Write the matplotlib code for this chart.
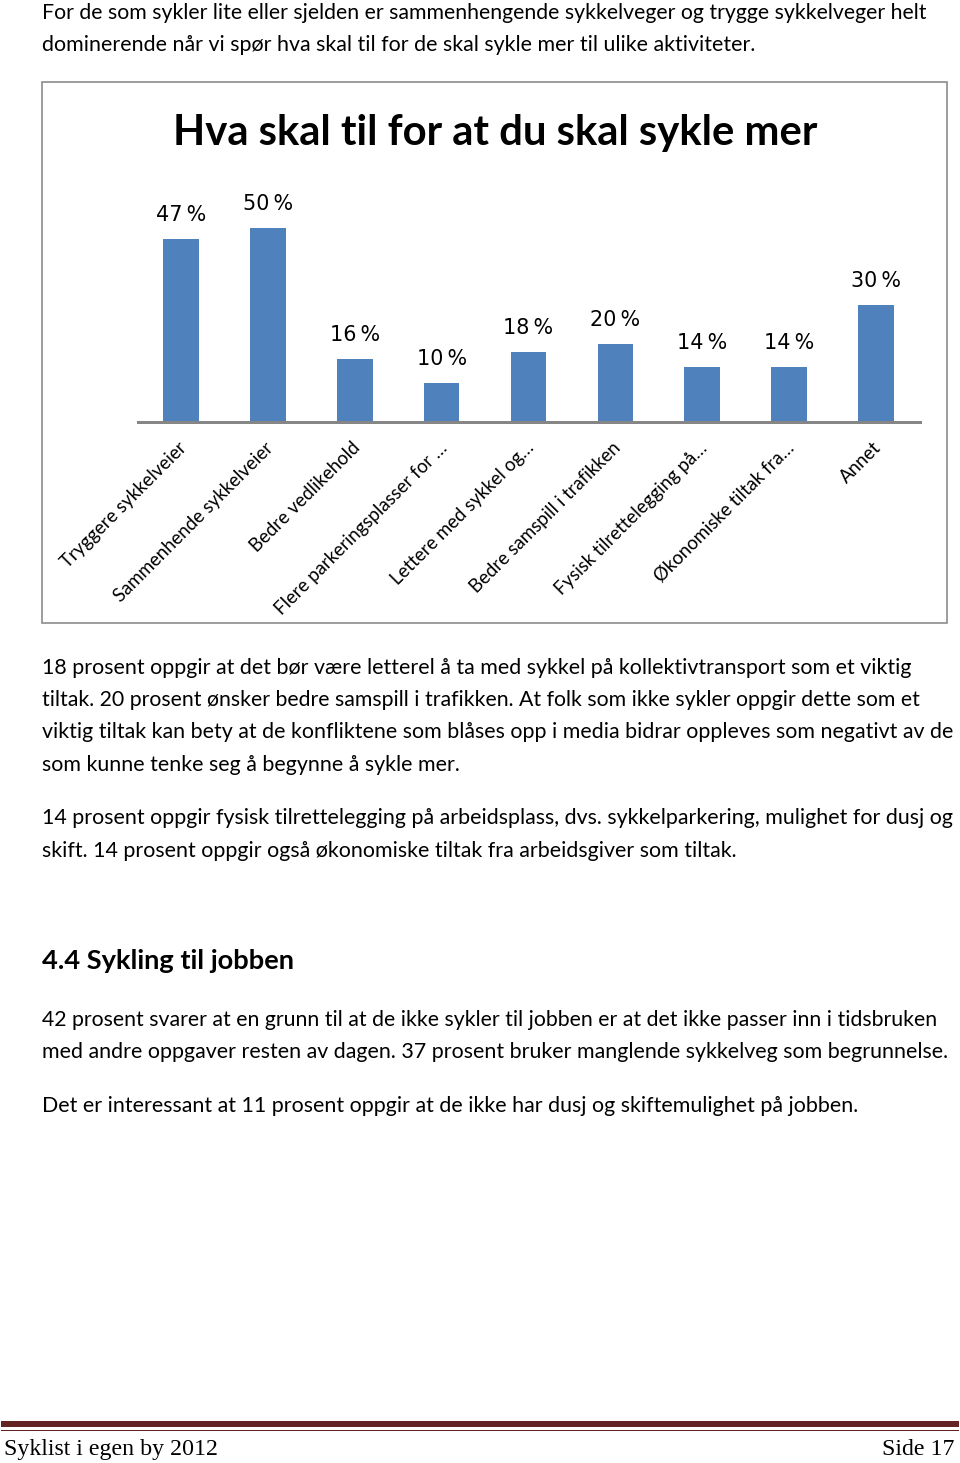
import matplotlib
matplotlib.use("Agg")
import matplotlib.pyplot as plt
from matplotlib.patches import Rectangle
import matplotlib.transforms as mtransforms

# ---------------- data ----------------
title = "Hva skal til for at du skal sykle mer"
categories = ["Tryggere sykkelveier", "Sammenhende sykkelveier", "Bedre vedlikehold",
              "Flere parkeringsplasser for …", "Lettere med sykkel og…",
              "Bedre samspill i trafikken", "Fysisk tilrettelegging på…",
              "Økonomiske tiltak fra…", "Annet"]
values = [47, 50, 16, 10, 18, 20, 14, 14, 30]
value_labels = ["47\u202f%", "50\u202f%", "16\u202f%", "10\u202f%", "18\u202f%",
                "20\u202f%", "14\u202f%", "14\u202f%", "30\u202f%"]

intro_lines = [
    "For de som sykler lite eller sjelden er sammenhengende sykkelveger og trygge sykkelveger helt",
    "dominerende når vi spør hva skal til for de skal sykle mer til ulike aktiviteter.",
]
after_lines = [
    "18 prosent oppgir at det bør være letterel å ta med sykkel på kollektivtransport som et viktig",
    "tiltak. 20 prosent ønsker bedre samspill i trafikken. At folk som ikke sykler oppgir dette som et",
    "viktig tiltak kan bety at de konfliktene som blåses opp i media bidrar oppleves som negativt av de",
    "som kunne tenke seg å begynne å sykle mer.",
    "14 prosent oppgir fysisk tilrettelegging på arbeidsplass, dvs. sykkelparkering, mulighet for dusj og",
    "skift. 14 prosent oppgir også økonomiske tiltak fra arbeidsgiver som tiltak.",
]
heading = "4.4 Sykling til jobben"
section_lines = [
    "42 prosent svarer at en grunn til at de ikke sykler til jobben er at det ikke passer inn i tidsbruken",
    "med andre oppgaver resten av dagen. 37 prosent bruker manglende sykkelveg som begrunnelse.",
    "Det er interessant at 11 prosent oppgir at de ikke har dusj og skiftemulighet på jobben.",
]
footer_left = "Syklist i egen by 2012"
footer_right = "Side 17"

# ---------------- layout (pixels) ----------------
W, H = 960, 1463
intro_layout = [(19, 928), (51, 754)]
after_layout = [(674, 909), (706, 922), (738, 951), (771, 459), (824, 951), (857, 735)]
heading_layout = (969, 295)
section_layout = [(1026, 938), (1058, 949), (1112, 856)]
LEFT = 42

BAR_COLOR = "#4F81BD"
AXIS_COLOR = "#868686"
FOOT_COLOR = "#632423"
BODY_FONT = ["Lato", "DejaVu Sans"]

fig = plt.figure(figsize=(W / 100, H / 100), dpi=100)
renderer = fig.canvas.get_renderer()

ov = fig.add_axes([0, 0, 1, 1], zorder=0)
ov.set_xlim(0, W)
ov.set_ylim(H, 0)
ov.axis("off")


def fit(t, target_w):
    t.set_fontsize(20)
    w = t.get_window_extent(renderer).width
    t.set_fontsize(20 * target_w / w)
    return t


def body_line(s, y, right, weight="normal"):
    t = ov.text(LEFT, y, s, ha="left", va="baseline", family=BODY_FONT,
                weight=weight, color="black")
    fit(t, right - LEFT)
    return t


for s, (y, r) in zip(intro_lines, intro_layout):
    body_line(s, y, r)
for s, (y, r) in zip(after_lines, after_layout):
    body_line(s, y, r)
body_line(heading, heading_layout[0], heading_layout[1], weight="bold")
for s, (y, r) in zip(section_lines, section_layout):
    body_line(s, y, r)

# chart frame
ov.add_patch(Rectangle((42, 82), 905, 541, facecolor="white",
                       edgecolor="#8c8c8c", lw=1.2))

# title
tt = ov.text(495, 145, title, ha="center", va="baseline", family=BODY_FONT,
             weight="bold", color="black")
fit(tt, 646)

# chart axes
ax_left, ax_right = 137.5, 919.5
base_y = 421.5
px_per = 3.88
ymax = 60
ax_h = ymax * px_per
ax = fig.add_axes([ax_left / W, 1 - base_y / H, (ax_right - ax_left) / W, ax_h / H],
                  zorder=2)
ax.patch.set_visible(False)
x = list(range(len(categories)))
ax.bar(x, values, width=0.41, color=BAR_COLOR, zorder=2)
ax.set_xlim(-0.5, len(categories) - 0.5)
ax.set_ylim(0, ymax)
for s in ["top", "left", "right"]:
    ax.spines[s].set_visible(False)
ax.spines["bottom"].set_color(AXIS_COLOR)
ax.spines["bottom"].set_linewidth(3 * 0.72)
ax.spines["bottom"].set_zorder(3)
ax.set_yticks([])
ax.set_xticks([])

# value labels
tmp = ax.text(0, 0, value_labels[0], family="DejaVu Sans")
fit(tmp, 50)
vfs = tmp.get_fontsize()
tmp.remove()
for xi, v, lab in zip(x, values, value_labels):
    ax.annotate(lab, (xi, v), xytext=(0, 24 * 0.72), textcoords="offset points",
                ha="center", va="center", fontsize=vfs, family="DejaVu Sans",
                color="black")

# category labels
tmp = ov.text(0, 0, categories[0], family=BODY_FONT)
fit(tmp, 170)
cfs = tmp.get_fontsize()
tmp.remove()
blend = mtransforms.blended_transform_factory(ax.transData, ov.transData)
for xi, c in zip(x, categories):
    ax.text(xi - 0.04, 439, c, transform=blend, rotation=45, rotation_mode="anchor",
            ha="right", va="top", fontsize=cfs, family=BODY_FONT, color="black",
            clip_on=False)

# footer
ov.add_patch(Rectangle((1, 1421), 958, 6, facecolor=FOOT_COLOR, edgecolor="none"))
ov.add_patch(Rectangle((1, 1429.5), 958, 1.5, facecolor=FOOT_COLOR, edgecolor="none"))
fl = ov.text(4, 1455, footer_left, ha="left", va="baseline",
             family=["Liberation Serif", "DejaVu Serif"], color="black")
fit(fl, 214)
ov.text(955, 1455, footer_right, ha="right", va="baseline",
        family=["Liberation Serif", "DejaVu Serif"], fontsize=fl.get_fontsize(),
        color="black")

fig.savefig("out.png", dpi=100, facecolor="white")
